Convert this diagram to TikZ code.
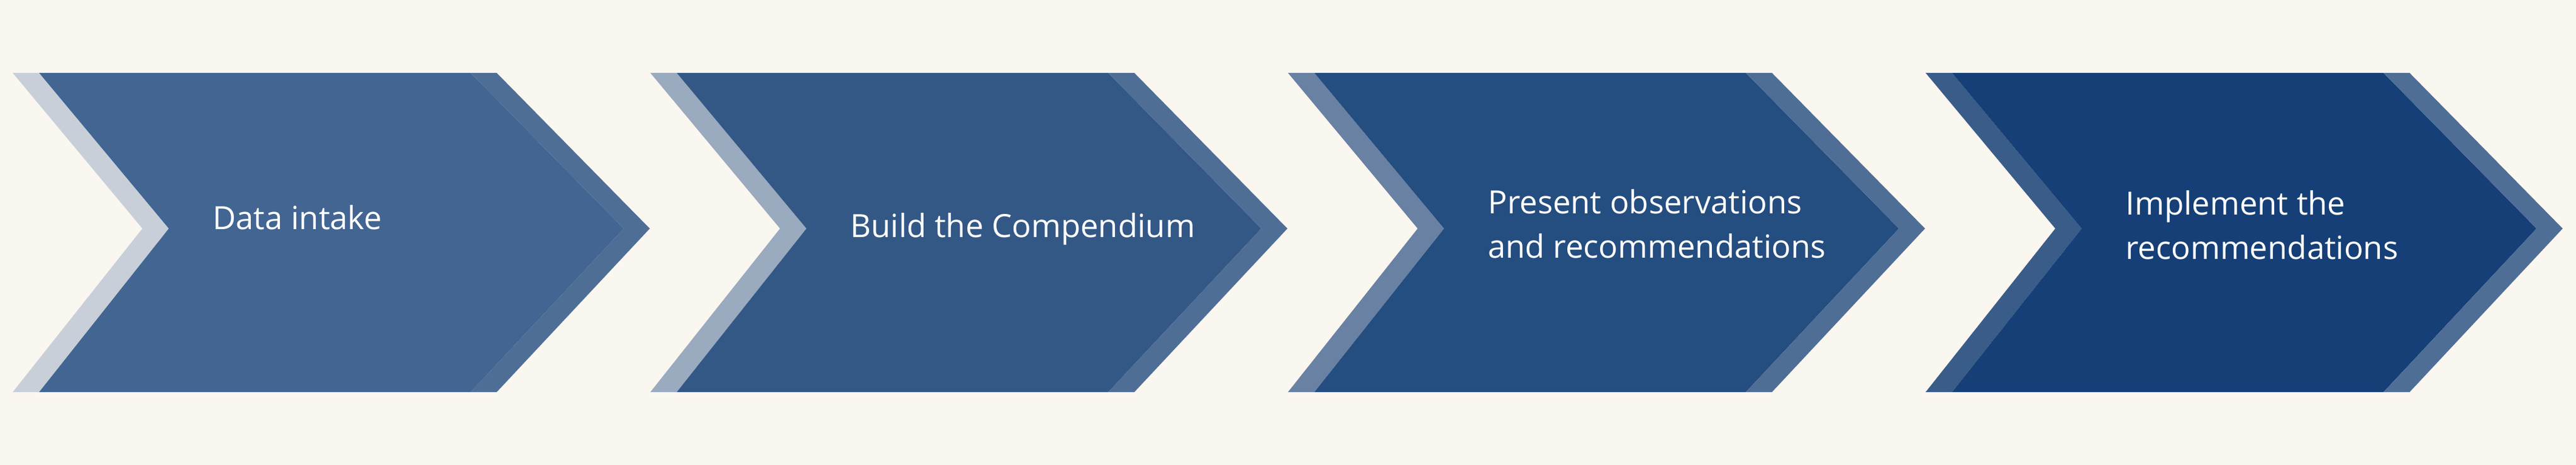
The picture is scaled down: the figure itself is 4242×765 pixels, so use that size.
\documentclass[tikz,border=0pt]{standalone}
\usepackage{fontspec}
\setmainfont{Open Sans}
\definecolor{bgc}{HTML}{FAF6F0}
\definecolor{mainA}{HTML}{426592}
\definecolor{mainB}{HTML}{335886}
\definecolor{mainC}{HTML}{244D80}
\definecolor{mainD}{HTML}{153F76}
\definecolor{leftA}{HTML}{C8CFD8}
\definecolor{leftB}{HTML}{9AAABF}
\definecolor{leftC}{HTML}{6981A2}
\definecolor{leftD}{HTML}{3A5C89}
\definecolor{rightS}{HTML}{4F6E96}
\begin{document}
\begin{tikzpicture}[x=0.5pt,y=-0.5pt,
  steptext/.style={text=white,inner sep=0pt,anchor=base west,align=left,
    font=\fontsize{26.3}{36.5}\selectfont}]
\useasboundingbox (0,0) rectangle (4242,765);
\fill[bgc] (0,0) rectangle (4242,765);
\foreach \k/\mc/\lc in {0/mainA/leftA,1/mainB/leftB,2/mainC/leftC,3/mainD/leftD}{
  \begin{scope}[xshift={(21+1050*\k)*0.5pt}]
    % left strip
    \fill[\lc] (0,120) -- (43.5,120) -- (257,376) -- (43.5,645) -- (0,645) -- (213.5,376) -- cycle;
    % main body
    \fill[\mc] (43.5,120) -- (754,120) -- (1006,376) -- (754,645) -- (43.5,645) -- (257,376) -- cycle;
    % right strip
    \fill[rightS] (754,120) -- (797,120) -- (1049,376) -- (797,645) -- (754,645) -- (1006,376) -- cycle;
  \end{scope}
}
\node[steptext] (t1) at (350,377) {Data intake};
\node[steptext] (t2) at (1400,390) {Build the Compendium};
\node[steptext] (t3) at (2450,424) {Present observations\\and recommendations};
\node[steptext] (t4) at (3500,426) {Implement the\\recommendations};
\end{tikzpicture}
\end{document}
